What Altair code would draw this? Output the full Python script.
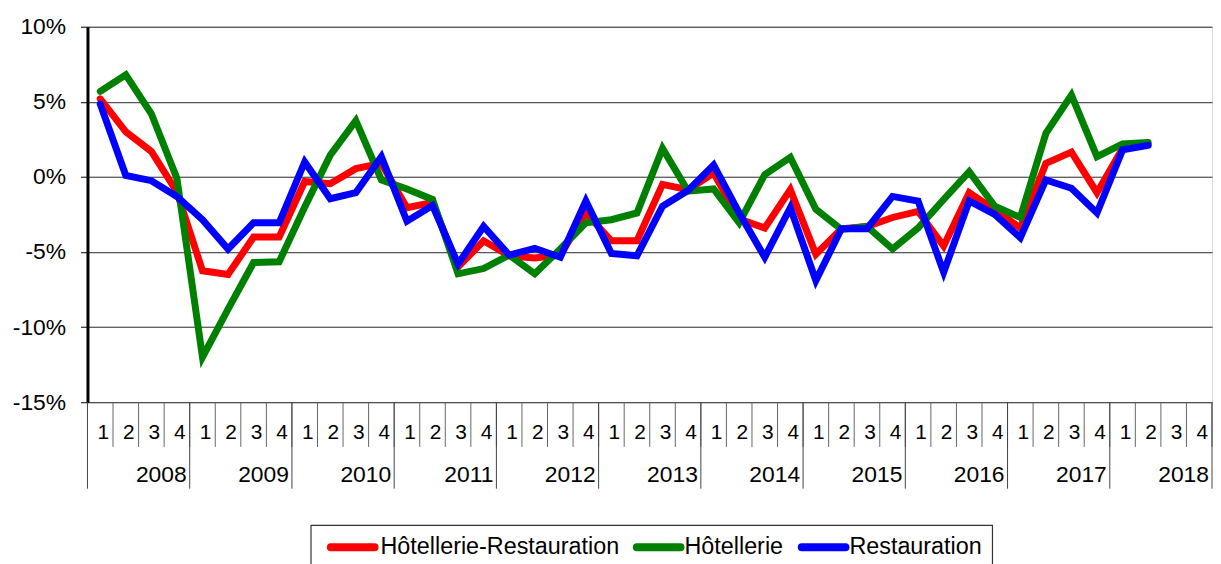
import altair as alt
import pandas as pd

# ---- data -------------------------------------------------------------
years = ["2008", "2009", "2010", "2011", "2012", "2013",
         "2014", "2015", "2016", "2017", "2018"]
quarters = ["1", "2", "3", "4"]

series_names = ["Hôtellerie-Restauration", "Hôtellerie", "Restauration"]
series_colors = ["#FF0000", "#008000", "#0000FF"]

hotel_resto = [5.2, 3.0, 1.7, -1.0, -6.25, -6.5, -4.0, -4.0, -0.3, -0.45, 0.55, 0.9,
               -2.05, -1.7, -6.0, -4.25, -5.25, -5.4, -5.2, -2.4, -4.25, -4.25, -0.5, -0.85,
               0.25, -2.8, -3.4, -0.85, -5.15, -3.45, -3.3, -2.7, -2.3, -4.6, -1.05, -2.2,
               -3.4, 0.9, 1.65, -1.05, 1.9, 2.2]
hotellerie = [5.7, 6.8, 4.2, -0.1, -12.0, -8.8, -5.7, -5.65, -2.0, 1.45, 3.75, -0.2,
              -0.8, -1.5, -6.45, -6.1, -5.2, -6.45, -4.8, -3.05, -2.85, -2.4, 1.9, -0.95,
              -0.8, -3.05, 0.15, 1.3, -2.15, -3.5, -3.3, -4.8, -3.4, -1.5, 0.35, -1.95,
              -2.7, 2.9, 5.45, 1.35, 2.2, 2.3]
restauration = [4.85, 0.1, -0.25, -1.3, -2.85, -4.8, -3.05, -3.05, 1.0, -1.45, -1.05, 1.35,
                 -2.95, -1.9, -5.8, -3.3, -5.2, -4.75, -5.35, -1.6, -5.1, -5.25, -1.95, -0.9,
                 0.8, -2.4, -5.35, -2.05, -6.9, -3.45, -3.45, -1.3, -1.6, -6.35, -1.6, -2.5,
                 -4.05, -0.2, -0.75, -2.4, 1.8, 2.1]

# ---- layout (pixels, relative to the plot area's top-left) -------------
W, H = 1132, 378
FONT = "Liberation Sans"
legend_box = {"x": 225, "x2": 911, "y": 502, "y2": 548}
legend_sym_x = [245, 553, 719]
legend_sym_len = 44
legend_text_x = [295, 601, 767]
legend_sym_y = 524
legend_text_y = 531

# ---- tables -------------------------------------------------------------
rows = []
for order, (name, vals) in enumerate(zip(series_names, [hotel_resto, hotellerie, restauration])):
    for i, v in enumerate(vals):
        rows.append({"pos": i + 0.5, "serie": name, "value": v, "ord": order})
lines_df = pd.DataFrame(rows)

q_rows = []
for yi, y in enumerate(years):
    for qi, q in enumerate(quarters):
        q_rows.append({"end": yi * 4 + qi + 1, "label": q})
q_df = pd.DataFrame(q_rows)
y_df = pd.DataFrame({"end": [(k + 1) * 4 for k in range(len(years))], "label": years})
yb_df = pd.DataFrame({"end": [k * 4 for k in range(len(years) + 1)]})

leg_df = pd.DataFrame({
    "serie": series_names,
    "sx": legend_sym_x,
    "sx2": [v + legend_sym_len for v in legend_sym_x],
    "tx": legend_text_x,
})

N = len(years) * 4
xscale = alt.Scale(domain=[0, N], nice=False, zero=False)
cscale = alt.Scale(domain=series_names, range=series_colors)

lines = alt.Chart(lines_df).mark_line(strokeWidth=7, strokeCap="round").encode(
    x=alt.X("pos:Q", scale=xscale, axis=None),
    y=alt.Y("value:Q",
            scale=alt.Scale(domain=[-15, 10], nice=False, zero=False),
            axis=alt.Axis(values=[-15, -10, -5, 0, 5, 10],
                          labelExpr="datum.value + '%'",
                          labelFont=FONT, labelFontSize=23, labelColor="black",
                          tickColor="black", tickSize=7, tickWidth=1,
                          domainColor="black", domainWidth=3,
                          gridColor="black", gridWidth=1, gridOpacity=0.85,
                          labelPadding=15, title=None)),
    color=alt.Color("serie:N", scale=cscale, legend=None),
    order=alt.Order("ord:Q"),
    detail="serie:N",
)

q_rules = alt.Chart(q_df).mark_rule(color="#666666", strokeWidth=1).encode(
    x=alt.X("end:Q", scale=xscale, axis=None),
    y=alt.value(H), y2=alt.value(H + 45),
)
y_rules = alt.Chart(yb_df).mark_rule(color="#444444", strokeWidth=1).encode(
    x=alt.X("end:Q", scale=xscale, axis=None),
    y=alt.value(H), y2=alt.value(H + 87),
)
q_text = alt.Chart(q_df).mark_text(align="right", baseline="alphabetic", dx=-4,
                                   font=FONT, fontSize=21, color="black").encode(
    x=alt.X("end:Q", scale=xscale, axis=None),
    y=alt.value(H + 37),
    text="label:N",
)
y_text = alt.Chart(y_df).mark_text(align="right", baseline="alphabetic", dx=-3,
                                   font=FONT, fontSize=23, color="black").encode(
    x=alt.X("end:Q", scale=xscale, axis=None),
    y=alt.value(H + 80),
    text="label:N",
)

# legend (hand-built so the stroke symbols keep a compact row)
leg_frame = alt.Chart(pd.DataFrame({"k": [0]})).mark_rect(
    fill="white", stroke="#333333", strokeWidth=1.2).encode(
    x=alt.value(legend_box["x"]), x2=alt.value(legend_box["x2"]),
    y=alt.value(legend_box["y"]), y2=alt.value(legend_box["y2"]),
)
leg_sym = alt.Chart(leg_df).mark_rule(strokeWidth=8, strokeCap="round").encode(
    x=alt.X("sx:Q", scale=None), x2="sx2:Q",
    y=alt.value(legend_sym_y),
    color=alt.Color("serie:N", scale=cscale, legend=None),
)
leg_txt = alt.Chart(leg_df).mark_text(align="left", baseline="alphabetic",
                                      font=FONT, fontSize=23.5, color="black").encode(
    x=alt.X("tx:Q", scale=None),
    y=alt.value(legend_text_y),
    text="serie:N",
)

chart = alt.layer(q_rules, y_rules, q_text, y_text, lines,
                  leg_frame, leg_sym, leg_txt).properties(
    width=W, height=H,
    autosize=alt.AutoSizeParams(type="none"),
    padding={"left": 80, "top": 17, "right": 1, "bottom": 161},
).configure_view(stroke="black", strokeWidth=2.5).configure(background="white")

chart.save("out.html", embed_options={"renderer": "svg", "actions": False})
